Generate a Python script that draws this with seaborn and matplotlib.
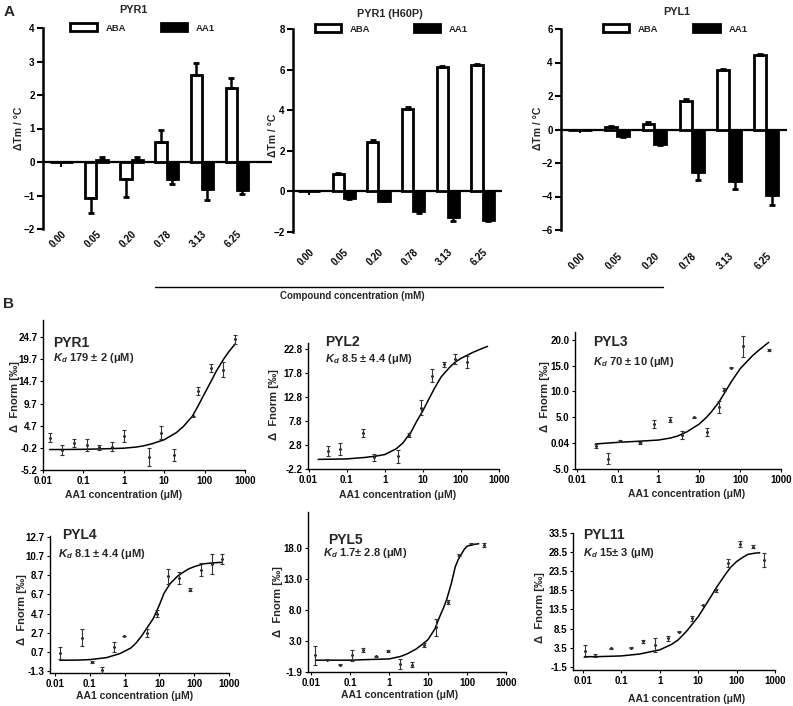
import numpy as np
import pandas as pd
import matplotlib.pyplot as plt
import seaborn as sns
from matplotlib.lines import Line2D
from matplotlib.patches import Patch

# ---------------- data: panel A (thermal shift, delta Tm in degC) ----------------
conc_labels = ["0.00", "0.05", "0.20", "0.78", "3.13", "6.25"]

pyr1_aba = [0.0, -1.08, -0.5, 0.6, 2.6, 2.2]
pyr1_aba_err = [0.0, 0.44, 0.54, 0.37, 0.35, 0.32]
pyr1_aa1 = [0.0, 0.05, 0.05, -0.5, -0.82, -0.85]
pyr1_aa1_err = [0.0, 0.09, 0.11, 0.16, 0.3, 0.1]

h60p_aba = [0.0, 0.87, 2.45, 4.07, 6.15, 6.25]
h60p_aba_err = [0.0, 0.04, 0.08, 0.08, 0.04, 0.04]
h60p_aa1 = [0.0, -0.32, -0.45, -0.97, -1.25, -1.42]
h60p_aa1_err = [0.0, 0.03, 0.03, 0.08, 0.2, 0.06]

pyl1_aba = [0.0, 0.15, 0.35, 1.72, 3.55, 4.45]
pyl1_aba_err = [0.0, 0.04, 0.08, 0.08, 0.04, 0.04]
pyl1_aa1 = [0.0, -0.4, -0.85, -2.52, -3.08, -3.9]
pyl1_aa1_err = [0.0, 0.05, 0.08, 0.48, 0.5, 0.62]

# ---------------- data: panel B (MST, delta Fnorm) ----------------
pyr1_x = [0.0146, 0.0296, 0.06, 0.123, 0.245, 0.5, 1.0, 4.2, 8.5, 17, 51, 69, 144, 287, 566]
pyr1_y = [2.1, -0.7, 0.8, 0.4, -0.1, 0.05, 2.4, -2.2, 3.2, -1.85, 6.9, 12.6, 17.8, 17.3, 24.2]
pyr1_e = [1.1, 1.1, 0.9, 1.3, 0.5, 1.0, 1.3, 2.0, 1.5, 1.4, 0.1, 0.9, 0.9, 1.7, 1.0]
pyr1_fit_x = [0.0146, 0.03, 0.1, 0.3, 1, 2, 3, 5, 10, 20, 30, 50, 70, 100, 150, 200, 300, 400, 566]
pyr1_fit_y = [-0.6, -0.6, -0.55, -0.45, -0.3, -0.05, 0.2, 0.7, 1.6, 3.2, 4.6, 6.9, 9.3, 12.0,
              15.0, 17.2, 19.8, 21.4, 23.1]

pyl2_x = [0.033, 0.066, 0.27, 0.53, 2.2, 4.4, 9.0, 17.7, 35.5, 72, 146]
pyl2_y = [1.5, 2.0, 5.3, 0.2, 0.4, 4.85, 10.5, 17.2, 19.6, 20.6, 20.1]
pyl2_e = [1.05, 1.2, 0.85, 0.7, 1.3, 0.4, 1.55, 1.3, 0.55, 1.05, 1.3]
pyl2_fit_x = [0.018, 0.05, 0.1, 0.3, 0.6, 1, 2, 3, 5, 7, 10, 15, 20, 30, 50, 70, 100, 200, 300, 500]
pyl2_fit_y = [-0.2, -0.15, -0.1, 0.2, 0.5, 0.8, 2.0, 3.2, 5.6, 7.8, 9.9, 12.6, 14.5, 16.9,
              18.9, 20.0, 20.8, 22.0, 22.6, 23.3]

pyl3_x = [0.029, 0.058, 0.116, 0.36, 0.76, 1.9, 3.8, 7.6, 15.3, 30.9, 40, 60, 120, 500]
pyl3_y = [-0.55, -3.0, 0.4, 0.0, 3.7, 4.5, 1.6, 5.0, 2.2, 7.0, 10.3, 14.6, 18.7, 18.0]
pyl3_e = [0.3, 1.0, 0.2, 0.15, 0.8, 0.5, 0.8, 0.15, 0.8, 1.2, 0.3, 0.15, 2.1, 0.15]
pyl3_fit_x = [0.029, 0.1, 0.3, 1, 2, 3, 5, 10, 15, 20, 30, 40, 60, 100, 200, 300, 500]
pyl3_fit_y = [-0.15, 0.15, 0.35, 0.6, 1.0, 1.4, 2.2, 3.7, 5.0, 6.1, 7.9, 9.5, 11.8, 14.4,
              16.9, 18.1, 19.5]

pyl4_x = [0.0139, 0.059, 0.113, 0.23, 0.49, 0.98, 4.3, 8.7, 18, 37, 76, 158, 318, 630]
pyl4_y = [0.6, 2.2, -0.35, -1.2, 1.2, 2.35, 2.7, 4.7, 8.6, 8.4, 7.2, 9.3, 9.9, 10.4]
pyl4_e = [0.63, 0.87, 0.1, 0.28, 0.52, 0.03, 0.42, 0.35, 0.77, 0.63, 0.17, 0.7, 1.05, 0.49]
pyl4_fit_x = [0.0139, 0.05, 0.1, 0.3, 0.74, 1.5, 2.1, 3, 5, 6.7, 10, 13.5, 20, 33, 50, 68,
              100, 190, 355, 630]
pyl4_fit_y = [-0.17, -0.15, -0.1, 0.1, 0.53, 1.1, 1.6, 2.3, 3.5, 4.2, 5.6, 6.8, 7.8, 8.6,
              9.05, 9.35, 9.6, 9.9, 10.0, 10.05]

pyl5_x = [0.013, 0.026, 0.055, 0.11, 0.22, 0.47, 0.93, 1.9, 3.9, 7.9, 16, 32, 64, 130, 275]
pyl5_y = [0.8, 0.1, -0.7, 0.8, 1.6, 0.6, 1.45, -0.55, -0.7, 2.4, 5.25, 9.4, 16.9, 18.7, 18.5]
pyl5_e = [1.5, 0.1, 0.1, 0.9, 0.3, 0.1, 0.15, 0.8, 0.45, 0.3, 1.35, 0.3, 0.15, 0.1, 0.27]
pyl5_fit_x = [0.013, 0.05, 0.1, 0.3, 1, 2, 3, 5, 7, 10, 15, 20, 25, 30, 40, 50, 60, 70, 85,
              100, 150, 200]
pyl5_fit_y = [0.0, 0.0, 0.0, 0.1, 0.2, 0.6, 1.05, 1.8, 2.5, 3.3, 5.0, 7.0, 8.4, 9.7, 12.4,
              15.0, 16.2, 16.9, 17.8, 18.3, 18.6, 18.7]

pyl11_x = [0.011, 0.021, 0.055, 0.175, 0.37, 0.77, 1.6, 3.2, 6.7, 13.5, 29, 60, 123, 263, 525]
pyl11_y = [2.6, 1.4, 3.3, 3.5, 5.1, 4.2, 5.9, 7.7, 11.2, 14.7, 18.5, 25.6, 30.7, 30.0, 26.5]
pyl11_e = [1.6, 0.45, 0.1, 0.1, 0.45, 1.9, 0.7, 0.2, 0.7, 0.1, 0.3, 1.05, 0.7, 0.45, 1.9]
pyl11_fit_x = [0.011, 0.021, 0.05, 0.1, 0.3, 1, 2, 3, 5, 10, 15, 20, 30, 50, 70, 100, 150,
               200, 300, 400]
pyl11_fit_y = [1.1, 1.1, 1.2, 1.3, 1.8, 2.9, 4.3, 5.5, 7.8, 11.6, 14.4, 16.4, 19.3, 22.6,
               24.6, 26.1, 27.3, 28.0, 28.3, 28.4]

log_ticks = [0.01, 0.1, 1, 10, 100, 1000]
log_labels = ["0.01", "0.1", "1", "10", "100", "1000"]

# ---------------- style ----------------
sns.set_theme(style="ticks")
plt.rcParams['font.family'] = ['Liberation Sans', 'DejaVu Sans']
plt.rcParams['font.weight'] = 'bold'
plt.rcParams['axes.labelweight'] = 'bold'
plt.rcParams['mathtext.fontset'] = 'custom'
plt.rcParams['mathtext.rm'] = 'Liberation Sans:bold'
plt.rcParams['mathtext.it'] = 'Liberation Sans:italic:bold'
plt.rcParams['mathtext.bf'] = 'Liberation Sans:bold'

W, H = 793, 706
fig = plt.figure(figsize=(W / 100, H / 100), dpi=100)


def px_axes(l, t, r, b):
    return fig.add_axes([l / W, 1 - b / H, (r - l) / W, (b - t) / H])


def ftext(x, y, s, **kw):
    fig.text(x / W, 1 - y / H, s, **kw)


# ---------------- panel A ----------------
def a_panel(box, title, title_xy, ylab_xy, aba, aba_err, aa1, aa1_err, ctrl,
            ylim, ystep, xlim, pad, leg_x, colsp):
    ax = px_axes(*box)
    df = pd.DataFrame({
        "conc": conc_labels + conc_labels,
        "compound": ["ABA"] * len(conc_labels) + ["AA1"] * len(conc_labels),
        "dtm": aba + aa1,
    })
    ax.axhline(0, color="black", lw=1.6, zorder=0.5)
    sns.barplot(data=df, x="conc", y="dtm", hue="compound", order=conc_labels,
                hue_order=["ABA", "AA1"], palette={"ABA": "white", "AA1": "black"},
                edgecolor="black", linewidth=2.0, width=0.64, errorbar=None,
                legend=False, ax=ax)
    for cont, vals, errs in zip(ax.containers, [aba, aa1], [aba_err, aa1_err]):
        for bar, v, e in zip(cont, vals, errs):
            if e == 0:
                continue
            xc = bar.get_x() + bar.get_width() / 2
            lo, hi = (0, e) if v >= 0 else (e, 0)
            ax.errorbar(xc, v, yerr=[[lo], [hi]], fmt="none", ecolor="black",
                        elinewidth=1.8, capsize=2.5, capthick=2)
    ax.errorbar(0, 0, yerr=[[ctrl], [0]], fmt="none", ecolor="black", elinewidth=1.4)
    ax.set_xlim(*xlim)
    ax.set_ylim(*ylim)
    ax.set_yticks(np.arange(ylim[0], ylim[1] + 0.1, ystep))
    ax.set_xlabel("")
    ax.set_ylabel("")
    sns.despine(ax=ax, bottom=True)
    ax.spines["left"].set_linewidth(1.8)
    ax.spines["left"].set_color("black")
    ax.tick_params(axis="y", direction="out", length=4, width=1.5, labelsize=7, pad=2, colors="black")
    ax.tick_params(axis="x", length=0, labelsize=7, pad=pad, colors="black")
    for lab in ax.get_xticklabels():
        lab.set_rotation(45)
        lab.set_ha("right")
        lab.set_rotation_mode("anchor")
    handles = [Patch(facecolor="white", edgecolor="black", linewidth=2, label="ABA"),
               Patch(facecolor="black", edgecolor="black", linewidth=2, label="AA1")]
    ax.legend(handles=handles, ncol=2, frameon=False, loc="center left",
              bbox_to_anchor=(leg_x, 1.0), borderaxespad=0, borderpad=0,
              handlelength=2.8, handleheight=0.9, handletextpad=0.9,
              columnspacing=colsp, prop={"size": 6.8, "weight": "bold"})
    ftext(*title_xy, title, ha="center", va="center", fontsize=7.8, fontweight="bold")
    ftext(*ylab_xy, "ΔTm / °C", ha="center", va="center", rotation=90, fontsize=7.5, fontweight="bold")
    return ax


a_panel((43, 28, 272, 229), "PYR1", (133, 10), (19, 128),
        pyr1_aba, pyr1_aba_err, pyr1_aa1, pyr1_aa1_err, 0.15,
        (-2, 4), 1, (-0.52, 6.0), 0, 0.12, 3.7)
a_panel((293, 29, 502, 232), "PYR1 (H60P)", (390, 14), (273, 135),
        h60p_aba, h60p_aba_err, h60p_aa1, h60p_aa1_err, 0.2,
        (-2, 8), 2, (-0.46, 5.56), 11, 0.105, 4.6)
a_panel((561, 29, 787, 230), "PYL1", (677, 12), (538, 128),
        pyl1_aba, pyl1_aba_err, pyl1_aa1, pyl1_aa1_err, 0.2,
        (-6, 6), 2, (-0.51, 5.56), 15, 0.186, 3.7)

fig.add_artist(Line2D([155 / W, 663 / W], [1 - 287 / H, 1 - 287 / H], color="black", lw=1))
ftext(280, 296, "Compound concentration (mM)", ha="left", va="center", fontsize=7, fontweight="bold")

ftext(9, 12, "A", ha="center", va="center", fontsize=11, fontweight="bold")
ftext(9, 304, "B", ha="center", va="center", fontsize=11, fontweight="bold")


# ---------------- panel B ----------------
def b_panel(box, name, kd, x, y, e, fx, fy, xlim, ylim, yticks, ylabels,
            name_xy, kd_xy, xlab_xy, ylab_xy):
    ax = px_axes(*box)
    ax.set_xscale("log")
    sns.lineplot(x=fx, y=fy, ax=ax, color="black", lw=1.1)
    ax.errorbar(x, y, yerr=e, fmt="none", ecolor="#333333", elinewidth=0.8,
                capsize=1.4, capthick=0.8)
    sns.scatterplot(x=x, y=y, ax=ax, color="black", s=4, linewidth=0)
    ax.set_xlim(*xlim)
    ax.set_ylim(*ylim)
    ax.set_xticks(log_ticks)
    ax.set_xticklabels(log_labels)
    ax.minorticks_off()
    ax.set_yticks(yticks)
    ax.set_yticklabels(ylabels)
    sns.despine(ax=ax)
    for sp in ("left", "bottom"):
        ax.spines[sp].set_linewidth(1.0)
        ax.spines[sp].set_color("black")
    ax.tick_params(length=2, width=0.8, labelsize=7, pad=2, colors="black")
    ftext(*name_xy, name, ha="left", va="center", fontsize=10, fontweight="bold")
    ftext(*kd_xy, r"$K_d$ " + kd, ha="left", va="center", fontsize=8, fontweight="bold")
    ftext(*xlab_xy, "AA1 concentration (μM)", ha="center", va="center", fontsize=7.5, fontweight="bold")
    ftext(*ylab_xy, "Δ  Fnorm [‰]", ha="center", va="center", rotation=90, fontsize=8, fontweight="bold")
    return ax


b_panel((43, 320, 245, 470), "PYR1", "179 ± 2 (μM)", pyr1_x, pyr1_y, pyr1_e,
        pyr1_fit_x, pyr1_fit_y, (0.01, 1000), (-5.2, 28.5),
        [-5.2, -0.2, 4.7, 9.7, 14.7, 19.7, 24.7],
        ["-5.2", "-0.2", "4.7", "9.7", "14.7", "19.7", "24.7"],
        (53, 343), (53, 358), (124, 495), (15, 397))
b_panel((308, 343, 499, 469), "PYL2", "8.5 ± 4.4 (μM)", pyl2_x, pyl2_y, pyl2_e,
        pyl2_fit_x, pyl2_fit_y, (0.0097, 1000), (-2.2, 24.0),
        [-2.2, 2.8, 7.8, 12.8, 17.8, 22.8],
        ["-2.2", "2.8", "7.8", "12.8", "17.8", "22.8"],
        (325, 342), (325, 359), (398, 495), (274, 405))
b_panel((575, 332, 781, 469), "PYL3", "70 ± 10 (μM)", pyl3_x, pyl3_y, pyl3_e,
        pyl3_fit_x, pyl3_fit_y, (0.0091, 1000), (-5.0, 21.5),
        [-5.0, 0.04, 5.0, 10.0, 15.0, 20.0],
        ["-5.0", "0.04", "5.0", "10.0", "15.0", "20.0"],
        (593, 342), (593, 362), (687, 494), (545, 397))
b_panel((50, 536, 229, 673), "PYL4", "8.1 ± 4.4 (μM)", pyl4_x, pyl4_y, pyl4_e,
        pyl4_fit_x, pyl4_fit_y, (0.0072, 1000), (-1.5, 12.8),
        [-1.3, 0.7, 2.7, 4.7, 6.7, 8.7, 10.7, 12.7],
        ["-1.3", "0.7", "2.7", "4.7", "6.7", "8.7", "10.7", "12.7"],
        (62, 535), (58, 554), (135, 696), (22, 610))
b_panel((308, 512, 506, 672), "PYL5", "1.7± 2.8 (μM)", pyl5_x, pyl5_y, pyl5_e,
        pyl5_fit_x, pyl5_fit_y, (0.0084, 1000), (-1.9, 23.8),
        [-1.9, 3.0, 8.0, 13.0, 18.0],
        ["-1.9", "3.0", "8.0", "13.0", "18.0"],
        (328, 540), (323, 553), (400, 695), (278, 602))
b_panel((573, 533, 775, 670), "PYL11", "15± 3 (μM)", pyl11_x, pyl11_y, pyl11_e,
        pyl11_fit_x, pyl11_fit_y, (0.0055, 1000), (-2.4, 33.6),
        [-1.5, 3.5, 8.5, 13.5, 18.5, 23.5, 28.5, 33.5],
        ["-1.5", "3.5", "8.5", "13.5", "18.5", "23.5", "28.5", "33.5"],
        (583, 535), (583, 553), (687, 699), (540, 608))

fig.savefig("out.png", dpi=100)
